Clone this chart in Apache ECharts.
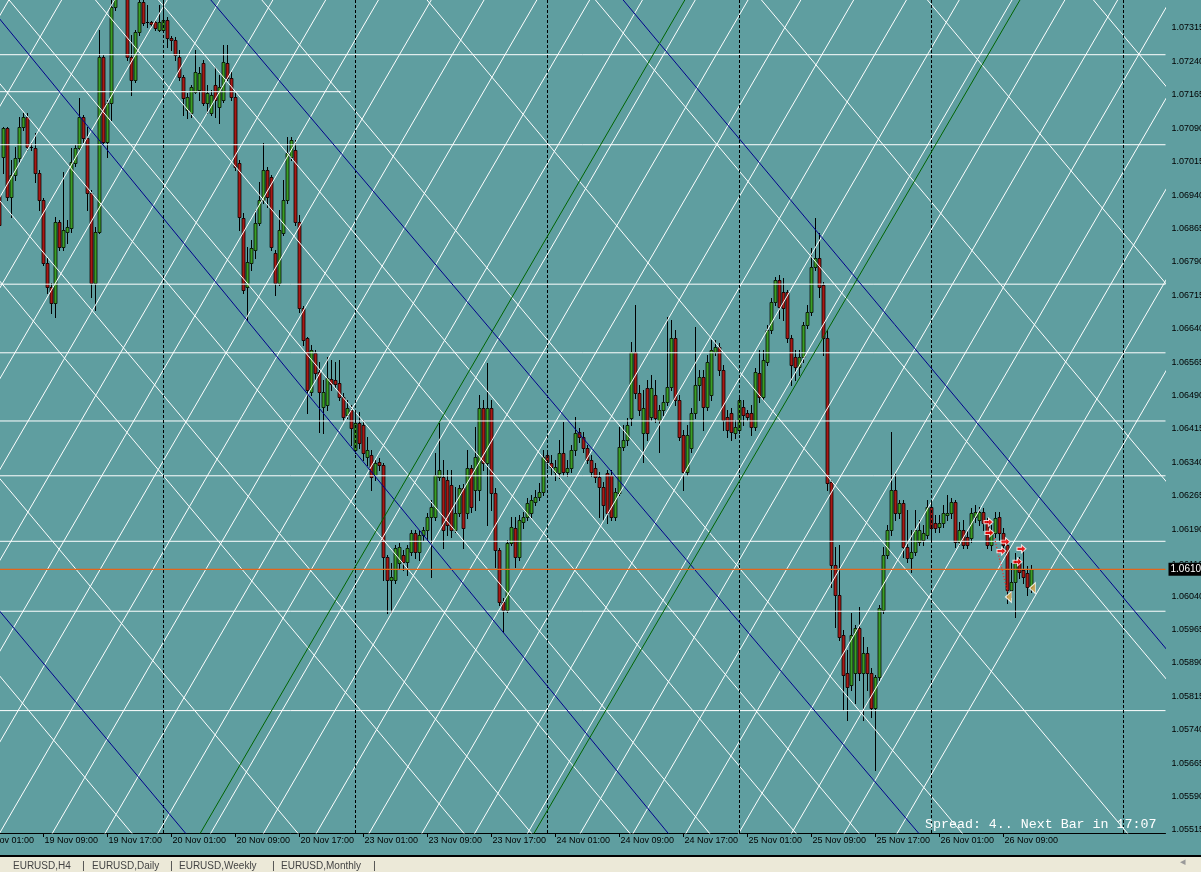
<!DOCTYPE html>
<html><head><meta charset="utf-8">
<script src="https://cdn.jsdelivr.net/npm/echarts@6/dist/echarts.min.js"></script>
<style>html,body{margin:0;padding:0;background:#5F9EA0;overflow:hidden}#c{width:1201px;height:872px}</style>
</head><body><div id="c"></div><script>
// ---------- data ----------
const firstBar = [2009, 10, 19, 1, 0]; // 19 Nov 01:00 (M30 bars)
const barMinutes = 30;
const barCount = 297;
const hiddenBars = 5; // bars left of the visible window (no data read)
// [open, close, low, high]
const candles = [
[1.06940,1.06873,1.06855,1.06952],[1.07026,1.07091,1.06990,1.07093],[1.07091,1.06936,1.06929,1.07093],[1.06936,1.06985,1.06891,1.07019],
[1.06985,1.07023,1.06974,1.07048],[1.07023,1.07093,1.07012,1.07115],[1.07093,1.07115,1.07086,1.07124],[1.07115,1.07048,1.07041,1.07124],
[1.07048,1.07046,1.07041,1.07057],[1.07046,1.06990,1.06970,1.07080],[1.06990,1.06929,1.06907,1.06996],[1.06929,1.06788,1.06783,1.06934],
[1.06788,1.06734,1.06720,1.06801],[1.06734,1.06698,1.06675,1.06743],[1.06698,1.06880,1.06666,1.06891],[1.06880,1.06824,1.06817,1.06884],
[1.06824,1.06862,1.06817,1.06992],[1.06857,1.06868,1.06833,1.06884],[1.06866,1.07014,1.06857,1.07046],[1.07012,1.07046,1.07005,1.07053],
[1.07046,1.07115,1.07041,1.07158],[1.07115,1.07068,1.07059,1.07120],[1.07068,1.06945,1.06907,1.07093],[1.06945,1.06743,1.06711,1.06952],
[1.06743,1.06857,1.06682,1.06868],[1.06857,1.07250,1.06855,1.07311],[1.07250,1.07059,1.07057,1.07255],[1.07059,1.07147,1.07026,1.07154],
[1.07147,1.07362,1.07109,1.07378],[1.07362,1.07389,1.07356,1.07405],[1.07389,1.07412,1.07385,1.07427],[1.07412,1.07396,1.07387,1.07434],
[1.07391,1.07250,1.07243,1.07400],[1.07250,1.07198,1.07165,1.07299],[1.07198,1.07306,1.07194,1.07311],[1.07306,1.07374,1.07299,1.07378],
[1.07374,1.07326,1.07322,1.07385],[1.07326,1.07329,1.07317,1.07367],[1.07329,1.07324,1.07320,1.07331],[1.07329,1.07315,1.07311,1.07333],
[1.07311,1.07329,1.07308,1.07367],[1.07311,1.07333,1.07308,1.07378],[1.07333,1.07293,1.07273,1.07340],[1.07293,1.07288,1.07266,1.07297],
[1.07288,1.07255,1.07243,1.07295],[1.07250,1.07205,1.07198,1.07266],[1.07205,1.07158,1.07120,1.07210],[1.07131,1.07160,1.07113,1.07169],
[1.07124,1.07183,1.07115,1.07187],[1.07171,1.07216,1.07169,1.07266],[1.07176,1.07214,1.07154,1.07228],[1.07237,1.07147,1.07142,1.07243],
[1.07147,1.07169,1.07124,1.07187],[1.07124,1.07165,1.07120,1.07176],[1.07187,1.07154,1.07115,1.07228],[1.07138,1.07183,1.07102,1.07210],
[1.07154,1.07239,1.07149,1.07277],[1.07237,1.07203,1.07198,1.07277],[1.07203,1.07160,1.07154,1.07216],[1.07160,1.07003,1.06996,1.07169],
[1.07012,1.06891,1.06862,1.07019],[1.06889,1.06727,1.06720,1.06900],[1.06734,1.06790,1.06660,1.06824],[1.06788,1.06821,1.06772,1.06839],
[1.06817,1.06877,1.06799,1.06907],[1.06877,1.06929,1.06873,1.06970],[1.06929,1.06996,1.06922,1.07057],[1.06996,1.06936,1.06913,1.07003],
[1.06981,1.06824,1.06817,1.06985],[1.06810,1.06743,1.06716,1.06817],[1.06743,1.06862,1.06738,1.06907],[1.06855,1.06929,1.06851,1.06974],
[1.06929,1.07035,1.06922,1.07070],[1.07026,1.07064,1.07019,1.07070],[1.07041,1.06880,1.06873,1.07064],[1.06880,1.06687,1.06678,1.06895],
[1.06687,1.06615,1.06604,1.06691],[1.06619,1.06503,1.06451,1.06622],[1.06498,1.06592,1.06491,1.06604],[1.06586,1.06541,1.06525,1.06592],
[1.06543,1.06498,1.06408,1.06565],[1.06464,1.06498,1.06406,1.06525],[1.06469,1.06530,1.06458,1.06577],[1.06527,1.06516,1.06503,1.06570],
[1.06525,1.06516,1.06509,1.06565],[1.06518,1.06487,1.06480,1.06570],[1.06487,1.06442,1.06435,1.06496],[1.06447,1.06462,1.06440,1.06480],
[1.06458,1.06417,1.06379,1.06469],[1.06368,1.06429,1.06361,1.06458],[1.06429,1.06384,1.06373,1.06453],[1.06424,1.06361,1.06346,1.06435],
[1.06352,1.06368,1.06334,1.06397],[1.06357,1.06307,1.06278,1.06368],[1.06312,1.06339,1.06301,1.06346],[1.06341,1.06334,1.06323,1.06350],
[1.06334,1.06128,1.06076,1.06339],[1.06128,1.06076,1.06002,1.06132],[1.06076,1.06083,1.06002,1.06114],[1.06076,1.06148,1.06069,1.06155],
[1.06114,1.06150,1.06103,1.06159],[1.06132,1.06117,1.06099,1.06144],[1.06117,1.06148,1.06087,1.06155],[1.06139,1.06182,1.06132,1.06188],
[1.06182,1.06139,1.06126,1.06188],[1.06139,1.06177,1.06121,1.06188],[1.06177,1.06188,1.06166,1.06195],[1.06188,1.06218,1.06166,1.06227],
[1.06218,1.06240,1.06083,1.06256],[1.06218,1.06312,1.06211,1.06361],[1.06307,1.06323,1.06301,1.06429],[1.06307,1.06188,1.06148,1.06346],
[1.06301,1.06200,1.06177,1.06323],[1.06290,1.06188,1.06173,1.06323],[1.06188,1.06227,1.06184,1.06285],[1.06227,1.06283,1.06220,1.06290],
[1.06283,1.06193,1.06148,1.06292],[1.06227,1.06328,1.06215,1.06368],[1.06328,1.06240,1.06229,1.06334],[1.06278,1.06352,1.06233,1.06420],
[1.06278,1.06462,1.06256,1.06491],[1.06462,1.06339,1.06323,1.06480],[1.06339,1.06462,1.06200,1.06563],[1.06462,1.06272,1.06233,1.06480],
[1.06272,1.06144,1.06105,1.06283],[1.06144,1.06027,1.06020,1.06148],[1.06027,1.06009,1.05960,1.06036],[1.06009,1.06159,1.06004,1.06166],
[1.06159,1.06195,1.06155,1.06218],[1.06193,1.06128,1.06105,1.06218],[1.06128,1.06211,1.06121,1.06222],[1.06206,1.06218,1.06193,1.06229],
[1.06218,1.06249,1.06211,1.06260],[1.06227,1.06256,1.06218,1.06267],[1.06251,1.06262,1.06245,1.06278],[1.06262,1.06274,1.06256,1.06294],
[1.06274,1.06352,1.06267,1.06368],[1.06357,1.06341,1.06328,1.06364],[1.06339,1.06330,1.06312,1.06357],[1.06319,1.06330,1.06301,1.06346],
[1.06316,1.06361,1.06305,1.06391],[1.06361,1.06319,1.06312,1.06431],[1.06319,1.06328,1.06310,1.06346],[1.06328,1.06368,1.06319,1.06379],
[1.06368,1.06406,1.06357,1.06442],[1.06408,1.06397,1.06386,1.06417],[1.06397,1.06373,1.06364,1.06408],[1.06373,1.06346,1.06339,1.06379],
[1.06346,1.06319,1.06310,1.06357],[1.06328,1.06307,1.06296,1.06339],[1.06307,1.06285,1.06218,1.06319],[1.06285,1.06245,1.06211,1.06296],
[1.06316,1.06227,1.06204,1.06323],[1.06312,1.06218,1.06211,1.06323],[1.06218,1.06274,1.06211,1.06283],[1.06272,1.06375,1.06267,1.06420],
[1.06375,1.06391,1.06368,1.06424],[1.06391,1.06424,1.06379,1.06440],[1.06440,1.06588,1.06424,1.06610],[1.06588,1.06496,1.06485,1.06693],
[1.06496,1.06458,1.06447,1.06514],[1.06406,1.06462,1.06341,1.06503],[1.06507,1.06406,1.06391,1.06525],[1.06442,1.06507,1.06435,1.06536],
[1.06491,1.06440,1.06431,1.06525],[1.06435,1.06458,1.06364,1.06469],[1.06458,1.06476,1.06447,1.06491],[1.06476,1.06509,1.06469,1.06666],
[1.06509,1.06619,1.06503,1.06660],[1.06619,1.06480,1.06469,1.06637],[1.06480,1.06397,1.06391,1.06491],[1.06402,1.06319,1.06278,1.06413],
[1.06319,1.06402,1.06312,1.06424],[1.06373,1.06451,1.06364,1.06462],[1.06451,1.06514,1.06440,1.06644],[1.06514,1.06532,1.06480,1.06548],
[1.06532,1.06464,1.06413,1.06548],[1.06464,1.06565,1.06458,1.06581],[1.06491,1.06592,1.06480,1.06615],[1.06588,1.06599,1.06581,1.06615],
[1.06599,1.06548,1.06536,1.06608],[1.06548,1.06435,1.06413,1.06559],[1.06442,1.06413,1.06397,1.06458],[1.06451,1.06408,1.06391,1.06462],
[1.06406,1.06420,1.06395,1.06435],[1.06413,1.06480,1.06406,1.06491],[1.06464,1.06447,1.06424,1.06480],[1.06451,1.06442,1.06435,1.06458],
[1.06451,1.06420,1.06402,1.06469],[1.06420,1.06543,1.06413,1.06552],[1.06541,1.06487,1.06476,1.06592],[1.06487,1.06570,1.06480,1.06592],
[1.06565,1.06637,1.06559,1.06649],[1.06637,1.06700,1.06630,1.06709],[1.06700,1.06750,1.06693,1.06756],[1.06750,1.06689,1.06664,1.06761],
[1.06723,1.06687,1.06660,1.06754],[1.06723,1.06619,1.06610,1.06727],[1.06619,1.06559,1.06514,1.06626],[1.06577,1.06554,1.06525,1.06592],
[1.06554,1.06577,1.06536,1.06592],[1.06577,1.06649,1.06565,1.06655],[1.06649,1.06678,1.06642,1.06693],[1.06678,1.06779,1.06671,1.06821],
[1.06779,1.06799,1.06772,1.06889],[1.06799,1.06734,1.06711,1.06855],[1.06738,1.06619,1.06581,1.06745],[1.06619,1.06294,1.06278,1.06637],
[1.06296,1.06110,1.06061,1.06301],[1.06110,1.06043,1.05971,1.06150],[1.06043,1.05948,1.05942,1.06155],[1.05953,1.05863,1.05785,1.05964],
[1.05868,1.05836,1.05762,1.05919],[1.05841,1.05953,1.05829,1.06002],[1.05868,1.05969,1.05800,1.05975],[1.05969,1.05868,1.05852,1.06016],
[1.05868,1.05912,1.05762,1.05948],[1.05912,1.05868,1.05829,1.05926],[1.05868,1.05789,1.05769,1.05879],[1.05789,1.05859,1.05650,1.05863],
[1.05859,1.06013,1.05852,1.06020],[1.06009,1.06132,1.06002,1.06150],[1.06132,1.06188,1.06126,1.06200],[1.06188,1.06278,1.06177,1.06408],
[1.06278,1.06227,1.06211,1.06316],[1.06227,1.06249,1.06215,1.06256],[1.06249,1.06150,1.06128,1.06256],[1.06150,1.06126,1.06117,1.06233],
[1.06126,1.06139,1.06094,1.06188],[1.06139,1.06188,1.06132,1.06233],[1.06162,1.06188,1.06155,1.06211],[1.06166,1.06182,1.06155,1.06200],
[1.06177,1.06240,1.06170,1.06256],[1.06240,1.06193,1.06166,1.06251],[1.06204,1.06193,1.06184,1.06222],[1.06195,1.06204,1.06184,1.06222],
[1.06204,1.06227,1.06195,1.06245],[1.06222,1.06227,1.06211,1.06267],[1.06227,1.06251,1.06215,1.06260],[1.06251,1.06162,1.06150,1.06256],
[1.06162,1.06188,1.06155,1.06206],[1.06188,1.06155,1.06148,1.06211],[1.06173,1.06155,1.06148,1.06188],[1.06170,1.06227,1.06162,1.06238],
[1.06218,1.06229,1.06206,1.06245],[1.06211,1.06229,1.06200,1.06240],[1.06229,1.06204,1.06188,1.06238],[1.06204,1.06155,1.06148,1.06215],
[1.06155,1.06184,1.06144,1.06200],[1.06182,1.06215,1.06173,1.06229],[1.06218,1.06182,1.06166,1.06229],[1.06182,1.06155,1.06144,1.06193],
[1.06155,1.06054,1.06025,1.06166],[1.06054,1.06072,1.06038,1.06114],[1.06072,1.06114,1.05993,1.06137],[1.06114,1.06094,1.06081,1.06128],
[1.06099,1.06083,1.06069,1.06144],[1.06092,1.06061,1.06043,1.06108],[1.06061,1.06100,1.06049,1.06110]
];
const bidPrice = 1.0610;
const bidLabel = '1.0610';
const priceMin = 1.055083, priceMax = 1.073778;
const priceTickLabels = ['1.07315','1.07240','1.07165','1.07090','1.07015','1.06940','1.06865','1.06790','1.06715','1.06640','1.06565','1.06490','1.06415','1.06340','1.06265','1.06190','1.06110','1.06040','1.05965','1.05890','1.05815','1.05740','1.05665','1.05590','1.05515'];
// horizontal levels: price, last bar index (null = whole chart)
const levelPrices = [1.07255,1.07172,1.07053,1.06740,1.06586,1.06433,1.06310,1.06163,1.06006,1.05783];
const levelEnds   = [null,   92.75,  null,   null,   null,   null,   null,   null,   null,   null];
// trend lines: [bar1, price1, bar2, price2]
const blueLines = [[5.25,1.07333,171.5,1.05515],[121.5,1.06705,175.25,1.06137],[202.75,1.06929,230.25,1.06634],[5.25,1.06004,51.5,1.05508]];
const greenLines = [[84.75,1.05964,132.75,1.06705],[187.25,1.06256,230.25,1.06918]];
// white grid lines: bar where each line crosses 1.0600, shared slope (price per bar)
const whiteAscAt = [261.3,248.1,234.9,221.7,208.5,195.3,182.1,168.9,155.7,142.5,129.3,116.1,102.9,89.7,76.5,63.3,50.1,36.9,23.7,10.5,-2.7,-15.9,-29.1,-42.3,-55.5,-68.7,-81.9];
const whiteAscSlope = 0.0001544;
const whiteDescAt = [-49.5,-8,33.5,75,91.9,116.5,136.4,158,173.75,199.6,240.9,283,324.5,366,407.5];
const whiteDescSlope = -0.0001068;
const whiteRef = 1.0600;
// signals
const arrowMarks = [[252.25,1.06206],[252.5,1.06182],[256.5,1.06162],[255.5,1.06141],[260.5,1.06146],[259.5,1.06117]];
const triMarks = [[257.25,1.06038],[263.25,1.06058]];
const dotLine = [[253.75,1.06170],[257,1.06049]];
const infoText = 'Spread: 4.. Next Bar in 17:07';
const tabs = ['EURUSD,H4','EURUSD,Daily','EURUSD,Weekly','EURUSD,Monthly'];

// ---------- build ----------
const MON = ['Jan','Feb','Mar','Apr','May','Jun','Jul','Aug','Sep','Oct','Nov','Dec'];
const pad = n => (n < 10 ? '0' : '') + n;
const categories = [];
let t = Date.UTC(...firstBar);
while (categories.length < barCount) {
  const d = new Date(t);
  const wd = d.getUTCDay();
  if (wd !== 0 && wd !== 6) categories.push(pad(d.getUTCDate()) + ' ' + MON[d.getUTCMonth()] + ' ' + pad(d.getUTCHours()) + ':' + pad(d.getUTCMinutes()));
  t += barMinutes * 60000;
}
const candleRows = candles.map((c, k) => [k + hiddenBars, c[0], c[1], c[2], c[3]]);
const lastBar = hiddenBars + candles.length - 1;
const dayStarts = [];
categories.forEach((c, i) => { if (c.endsWith('00:00')) dayStarts.push(i); });
const labelRe = /(01|09|17):00$/;
const showLabel = (i, v) => i <= lastBar && labelRe.test(v);
const xMax = barCount - 0.5;
const chart = echarts.init(document.getElementById('c'), null, {renderer: 'canvas'});
const series = [];
const BULL = '#3A9E26', BEAR = '#A81A16', EDGE = 'rgba(0,0,0,0.75)';
series.push({
  type: 'custom', xAxisIndex: 0, yAxisIndex: 0, z: 2, silent: true, data: candleRows,
  encode: {x: 0, y: [1, 2, 3, 4]},
  renderItem: (params, api) => {
    const i = api.value(0);
    const o = api.coord([i, api.value(1)]), c = api.coord([i, api.value(2)]);
    const lo = api.coord([i, api.value(3)]), hi = api.coord([i, api.value(4)]);
    const x = o[0];
    const bull = api.value(2) >= api.value(1);
    let top = Math.round(Math.min(o[1], c[1])), bot = Math.round(Math.max(o[1], c[1]));
    const kids = [{type: 'line', shape: {x1: x, y1: Math.round(hi[1]), x2: x, y2: Math.round(lo[1]) + 1}, style: {stroke: '#000', lineWidth: 1}}];
    if (bot - top < 2) {
      kids.push({type: 'rect', shape: {x: x - 1.5, y: top, width: 3, height: 1}, style: {fill: '#000'}});
    } else {
      kids.push({type: 'rect', shape: {x: x - 1.5, y: top, width: 3, height: bot - top + 1}, style: {fill: bull ? BULL : BEAR}});
      kids.push({type: 'rect', shape: {x: x - 1.5, y: top + 0.5, width: 3, height: bot - top}, style: {fill: 'none', stroke: EDGE, lineWidth: 1}});
    }
    return {type: 'group', children: kids};
  },
  markLine: {
    silent: true, symbol: 'none', animation: false,
    data: dayStarts.map(i => ({xAxis: i, lineStyle: {color: '#000', type: [3, 2], width: 1}, label: {show: false}}))
  }
});
function addLine(pts, color, w, z, type) {
  series.push({type: 'line', xAxisIndex: 1, yAxisIndex: 0, data: pts, symbol: 'none', silent: true, z: z || 3,
    lineStyle: {color: color, width: w || 1, type: type || 'solid'}, clip: true, animation: false});
}
levelPrices.forEach((p, k) => addLine([[-0.5, p], [levelEnds[k] === null ? xMax : levelEnds[k], p]], '#fff', 1, 4));
whiteAscAt.forEach(a => addLine([[a - 200, whiteRef - 200 * whiteAscSlope], [a + 200, whiteRef + 200 * whiteAscSlope]], '#fff', 1, 3));
whiteDescAt.forEach(a => addLine([[a - 250, whiteRef - 250 * whiteDescSlope], [a + 250, whiteRef + 250 * whiteDescSlope]], '#fff', 1, 3));
blueLines.forEach(l => {
  const s = (l[3] - l[1]) / (l[2] - l[0]);
  addLine([[l[0] - 400, l[1] - 400 * s], [l[2] + 400, l[3] + 400 * s]], '#00008B', 1, 5);
});
greenLines.forEach(l => {
  const s = (l[3] - l[1]) / (l[2] - l[0]);
  addLine([[l[0] - 400, l[1] - 400 * s], [l[2] + 400, l[3] + 400 * s]], '#006400', 1, 5);
});
// bid line with its price box
series.push({type: 'line', xAxisIndex: 1, yAxisIndex: 0, data: [[-0.5, bidPrice], [xMax, bidPrice]], symbol: 'none', silent: true, z: 6,
  lineStyle: {color: '#E2661A', width: 1.2}, clip: false, animation: false,
  endLabel: {show: true, formatter: bidLabel, distance: 3, color: '#fff', backgroundColor: '#000',
    fontFamily: 'Liberation Sans', fontSize: 10, padding: [2, 3, 1, 2]}});
addLine(dotLine, '#FF2020', 1.2, 6, [1, 2]);
series.push({type: 'scatter', xAxisIndex: 1, yAxisIndex: 0, data: arrowMarks, z: 7, silent: true,
  symbol: 'path://M0,3 L5,3 L5,0 L10,5 L5,10 L5,7 L0,7 Z', symbolSize: [9, 8],
  itemStyle: {color: '#FF0000', borderColor: '#fff', borderWidth: 1}});
series.push({type: 'scatter', xAxisIndex: 1, yAxisIndex: 0, data: triMarks, z: 7, silent: true,
  symbol: 'path://M0,6 L8,0 L8,12 Z', symbolSize: [6, 11],
  itemStyle: {color: '#E0A848', borderColor: '#fff', borderWidth: 1}});

const tabX = [13, 92, 179, 281], sepX = [82, 170, 272, 373];
const graphics = [
  {type: 'rect', left: 0, top: 855, shape: {width: 1201, height: 2}, style: {fill: '#000'}},
  {type: 'rect', left: 0, top: 857, shape: {width: 1201, height: 15}, style: {fill: '#ECE9D8'}},
  {type: 'text', left: 925, top: 818, style: {text: infoText, fill: '#fff', font: '13.3px "Liberation Mono"'}, z: 10},
  {type: 'text', left: 1180, top: 857, style: {text: '\u25C2', fill: '#999', font: '11px "DejaVu Sans"'}}
];
tabs.forEach((s, k) => {
  graphics.push({type: 'text', left: tabX[k], top: 861, style: {text: s, fill: '#444', font: '10px "Liberation Sans"'}});
  graphics.push({type: 'text', left: sepX[k], top: 860, style: {text: '|', fill: '#444', font: '11px "Liberation Sans"'}});
});

chart.setOption({
  animation: false,
  backgroundColor: '#5F9EA0',
  grid: {left: -22.5, top: 0, width: barCount * 4, height: 833, containLabel: false, outerBoundsMode: 'none'},
  xAxis: [
    {type: 'category', data: categories, boundaryGap: true, gridIndex: 0,
      axisLine: {lineStyle: {color: '#000', width: 1}},
      axisTick: {show: true, length: 4, alignWithLabel: true, interval: showLabel, lineStyle: {color: '#000'}},
      axisLabel: {interval: showLabel, align: 'left', margin: 3, padding: [0, 0, 0, 1],
        color: '#000', fontFamily: 'Liberation Sans', fontSize: 9},
      splitLine: {show: false}},
    {type: 'value', min: -0.5, max: xMax, show: false, gridIndex: 0}
  ],
  yAxis: [{type: 'value', position: 'right', min: priceMin, max: priceMax, scale: true,
    axisLine: {show: true, lineStyle: {color: '#000'}},
    axisTick: {show: true, length: 3, customValues: priceTickLabels.map(Number), lineStyle: {color: '#000'}},
    axisLabel: {customValues: priceTickLabels.map(Number), formatter: v => priceTickLabels.find(s => Math.abs(Number(s) - v) < 1e-7) || '',
      color: '#000', fontFamily: 'Liberation Sans', fontSize: 9, margin: 6},
    splitLine: {show: false}}],
  series: series,
  graphic: graphics
});
</script></body></html>
